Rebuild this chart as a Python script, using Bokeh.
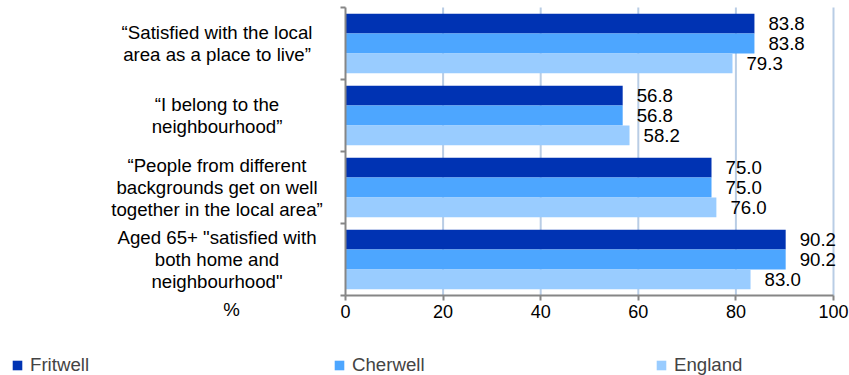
from bokeh.plotting import figure
from bokeh.models import (Range1d, FixedTicker, Label, LabelSet, Legend, LegendItem,
                          ColumnDataSource)
from bokeh.core.properties import value
from bokeh.transform import dodge
from bokeh.embed import file_html
from bokeh.resources import INLINE

# ---- data ----
categories = [
    "\u201cSatisfied with the local\narea as a place to live\u201d",
    "\u201cI belong to the\nneighbourhood\u201d",
    "\u201cPeople from different\nbackgrounds get on well\ntogether in the local area\u201d",
    "Aged 65+ \"satisfied with\nboth home and\nneighbourhood\"",
]
series_names = ["Fritwell", "Cherwell", "England"]
fritwell = [83.8, 56.8, 75.0, 90.2]
cherwell = [83.8, 56.8, 75.0, 90.2]
england = [79.3, 58.2, 76.0, 83.0]
x_ticks = [0, 20, 40, 60, 80, 100]
axis_title = "%"

colors = ["#0033B3", "#4DA6FF", "#99CCFF"]
FONT = "Liberation Sans"
W, H = 849, 375
n = len(categories)

# layout in pixels (frame covers the whole canvas; axes are pinned)
X0_PX, X100_PX = 345, 833          # pixel positions of x=0 and x=100
TOP_PX, BOT_PX = 7, 295            # pixel positions of top/bottom of category area
sx = (X100_PX - X0_PX) / 100.0
sy = (BOT_PX - TOP_PX) / n
x_start = -X0_PX / sx
x_end = 100 + (W - X100_PX) / sx
y_top = -TOP_PX / sy
y_bot = n + (H - BOT_PX) / sy

p = figure(width=W, height=H, output_backend="svg", toolbar_location=None,
           x_range=Range1d(x_start, x_end), y_range=Range1d(y_bot, y_top),
           min_border_left=0, min_border_right=0, min_border_top=0,
           min_border_bottom=0)
p.outline_line_color = None
p.background_fill_color = "white"
p.border_fill_color = "white"
p.xgrid.visible = False
p.ygrid.visible = False

# grid lines (only within the plot area)
grid_x = [t for t in x_ticks if t > 0]
p.segment(x0=grid_x, x1=grid_x, y0=[0] * len(grid_x), y1=[n] * len(grid_x),
          line_color="#B9CDE5", line_width=2)

# axes pinned at x=0 / y=n
p.xaxis.fixed_location = n
p.xaxis.bounds = (0, 100)
p.xaxis.ticker = FixedTicker(ticks=x_ticks)
p.xaxis.axis_line_color = "#868686"
p.xaxis.axis_line_width = 2
p.xaxis.major_tick_line_color = "#868686"
p.xaxis.major_tick_line_width = 2
p.xaxis.major_tick_out = 5
p.xaxis.major_tick_in = 0
p.xaxis.minor_tick_line_color = None
p.xaxis.major_label_text_font = FONT
p.xaxis.major_label_text_font_size = "18px"
p.xaxis.major_label_text_color = "black"
p.xaxis.major_label_standoff = 4

p.yaxis.fixed_location = 0
p.yaxis.bounds = (0, n)
p.yaxis.ticker = FixedTicker(ticks=[], minor_ticks=list(range(n + 1)))
p.yaxis.axis_line_color = "#868686"
p.yaxis.axis_line_width = 2
p.yaxis.major_tick_line_color = None
p.yaxis.minor_tick_line_color = "#868686"
p.yaxis.minor_tick_line_width = 2
p.yaxis.minor_tick_out = 5
p.yaxis.minor_tick_in = 0

# bars
bar_h = 0.275
renderers = []
for k, (name, vals, col) in enumerate(zip(series_names, [fritwell, cherwell, england], colors)):
    src = ColumnDataSource(dict(y=[i + 0.5 for i in range(n)], v=vals,
                                lbl=[f"{v:.1f}" for v in vals]))
    off = (k - 1) * bar_h
    r = p.hbar(y=dodge("y", off), right="v", left=0, height=bar_h,
               fill_color=col, line_color=None, source=src)
    renderers.append(r)
    p.add_layout(LabelSet(x="v", y=dodge("y", off), text="lbl", x_offset=14,
                          text_baseline="middle", text_align="left",
                          text_font=value(FONT), text_font_size=value("18.67px"),
                          text_color=value("black"), source=src))

# category labels
for i, cat in enumerate(categories):
    p.add_layout(Label(x=216.5, x_units="screen", y=i + 0.5, text=cat,
                       text_align="center", text_baseline="middle",
                       text_font=FONT, text_font_size="18.67px",
                       text_line_height=1.04, text_color="black"))

p.add_layout(Label(x=231, y=H - 309, x_units="screen", y_units="screen", text=axis_title,
                   text_align="center", text_baseline="middle",
                   text_font=FONT, text_font_size="18.67px", text_color="black"))

legend = Legend(items=[LegendItem(label=nm, renderers=[r]) for nm, r in zip(series_names, renderers)],
                orientation="horizontal", location=(11, -1),
                padding=0, spacing=0, margin=0, label_width=303,
                glyph_width=12, glyph_height=12, label_standoff=7,
                label_text_font=FONT, label_text_font_size="18.67px",
                background_fill_alpha=0, border_line_alpha=0)
p.add_layout(legend, "center")

open("out.html", "w").write(file_html(p, INLINE))
